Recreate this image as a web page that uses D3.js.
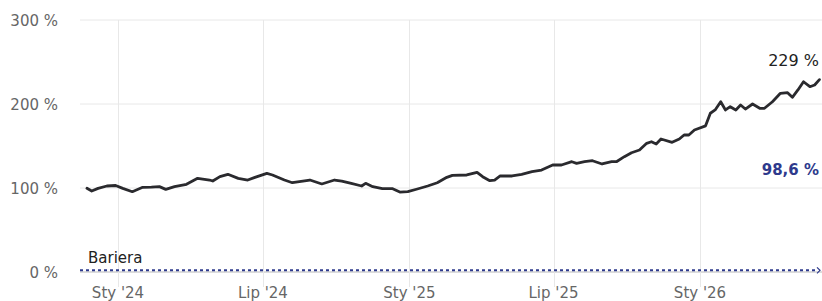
<!DOCTYPE html>
<meta charset="utf-8">
<style>
body { margin: 0; background: #fff; }
svg { display: block; font-family: "DejaVu Sans", sans-serif; }
</style>
<body>
<script src="https://d3js.org/d3.v7.min.js"></script>
<script>
// values (% of initial level)
var dates = ["2023-11-23","2023-11-29","2023-12-07","2023-12-18","2023-12-29","2024-01-07","2024-01-19",
  "2024-02-01","2024-02-12","2024-02-22","2024-03-01","2024-03-12","2024-03-27","2024-04-10","2024-04-25",
  "2024-04-29","2024-05-08","2024-05-18","2024-05-31","2024-06-12","2024-06-21","2024-07-06","2024-07-13",
  "2024-07-28","2024-08-07","2024-08-29","2024-09-13","2024-09-29","2024-10-08","2024-10-20","2024-11-02",
  "2024-11-07","2024-11-16","2024-11-28","2024-12-11","2024-12-20","2024-12-30","2025-01-11","2025-01-24",
  "2025-02-05","2025-02-17","2025-02-24","2025-03-14","2025-03-27","2025-04-03","2025-04-12","2025-04-18",
  "2025-04-25","2025-05-10","2025-05-22","2025-06-04","2025-06-16","2025-06-30","2025-07-11","2025-07-24",
  "2025-07-30","2025-08-09","2025-08-19","2025-08-31","2025-09-12","2025-09-18","2025-09-28","2025-10-07",
  "2025-10-17","2025-10-26","2025-11-01","2025-11-07","2025-11-13","2025-11-27","2025-12-06","2025-12-12",
  "2025-12-18","2025-12-25","2026-01-08","2026-01-14","2026-01-20","2026-01-27","2026-02-02","2026-02-08",
  "2026-02-15","2026-02-21","2026-02-27","2026-03-08","2026-03-17","2026-03-23","2026-04-02","2026-04-12",
  "2026-04-21","2026-04-27","2026-05-04","2026-05-11","2026-05-19","2026-05-25","2026-05-31"];
var values = [99.6,96.4,99.6,102.4,103,99.6,95.6,
  100.8,101,101.6,98.4,101.6,104.4,111.5,109.5,
  108.3,113.5,116.3,111.5,109.5,112.7,117.5,115.5,
  109.5,106.3,109.5,104.8,109.5,108.3,105.6,102.4,
  105.6,101.6,99.2,99.2,95.2,95.6,98.8,102.4,
  106.3,112.7,115.1,115.5,118.7,113.5,108.7,109.5,
  114.3,114.3,116.3,119.4,121.4,127.4,127.4,131.3,
  129.4,131.3,132.5,128.6,131.3,131.3,137.3,142,
  145.2,153.2,155.1,152.4,158.3,154.4,158.3,163.1,
  163.1,169,174,189,192.9,202.7,192.9,196.8,
  192.9,198.8,194,200,194.9,194.9,202.7,212.7,
  213.5,208,216.7,226.5,220.6,222.6,229];
var yTicks = [0, 100, 200, 300];
var xTicks = ["2024-01-01","2024-07-01","2025-01-01","2025-07-01","2026-01-01"];
var xTickLabels = ["Sty '24","Lip '24","Sty '25","Lip '25","Sty '26"];
var barrier = 2;
var lastLabel = "229 %";
var otherLabel = "98,6 %";

var width = 822, height = 301;
var parse = d3.timeParse("%Y-%m-%d");
var data = dates.map(function(d, i) { return {date: parse(d), v: values[i]}; });

var svg = d3.select("body").append("svg")
    .attr("width", width)
    .attr("height", height);

var x = d3.scaleTime()
    .domain([parse("2024-01-01"), parse("2026-01-01")])
    .range([118, 700]);
var y = d3.scaleLinear().domain([0, 300]).range([272, 20]);

// horizontal grid
svg.selectAll(".hgrid")
  .data(yTicks)
  .enter().append("line")
    .attr("x1", 80).attr("x2", width)
    .attr("y1", function(d) { return y(d); })
    .attr("y2", function(d) { return y(d); })
    .attr("stroke", function(d) { return d == 0 ? "#dcdcdc" : "#e8e8e8"; })
    .attr("stroke-width", function(d) { return d == 0 ? 2 : 1; });

// vertical grid
svg.selectAll(".vgrid")
  .data(xTicks)
  .enter().append("line")
    .attr("x1", function(d) { return Math.round(x(parse(d))) + 0.5; })
    .attr("x2", function(d) { return Math.round(x(parse(d))) + 0.5; })
    .attr("y1", 20).attr("y2", 287)
    .attr("stroke", "#e8e8e8");

// y labels
svg.selectAll(".ylab")
  .data(yTicks)
  .enter().append("text")
    .attr("x", 58)
    .attr("y", function(d) { return y(d) + 6; })
    .attr("text-anchor", "end")
    .attr("fill", "#666")
    .style("font-size", "15px")
    .text(function(d) { return d + " %"; });

// x labels
svg.selectAll(".xlab")
  .data(xTicks)
  .enter().append("text")
    .attr("x", function(d) { return x(parse(d)); })
    .attr("y", 298)
    .attr("text-anchor", "middle")
    .attr("fill", "#666")
    .style("font-size", "15px")
    .text(function(d, i) { return xTickLabels[i]; });

// barrier
svg.append("line")
    .attr("x1", 80).attr("x2", 818)
    .attr("y1", y(barrier)).attr("y2", y(barrier))
    .attr("stroke", "#2e3a8c")
    .attr("stroke-width", 2)
    .attr("stroke-dasharray", "3,3");
svg.append("path")
    .attr("d", "M817," + (y(barrier) - 3) + "l3,3l-3,3")
    .attr("fill", "none")
    .attr("stroke", "#2e3a8c")
    .attr("stroke-width", 1.2);
svg.append("text")
    .attr("x", 88).attr("y", 263)
    .attr("fill", "#222")
    .style("font-size", "15px")
    .text("Bariera");

// series
var line = d3.line()
    .x(function(d) { return x(d.date); })
    .y(function(d) { return y(d.v); });
svg.append("path")
    .datum(data)
    .attr("d", line)
    .attr("fill", "none")
    .attr("stroke", "#2a2a2e")
    .attr("stroke-width", 2.8)
    .attr("stroke-linejoin", "round")
    .attr("stroke-linecap", "round");

svg.append("text")
    .attr("x", 819).attr("y", 66)
    .attr("text-anchor", "end")
    .attr("fill", "#222")
    .style("font-size", "16px")
    .text(lastLabel);
svg.append("text")
    .attr("x", 819).attr("y", 175)
    .attr("text-anchor", "end")
    .attr("fill", "#2e3a8c")
    .style("font-size", "15px")
    .style("font-weight", "bold")
    .text(otherLabel);
</script>
</body>
